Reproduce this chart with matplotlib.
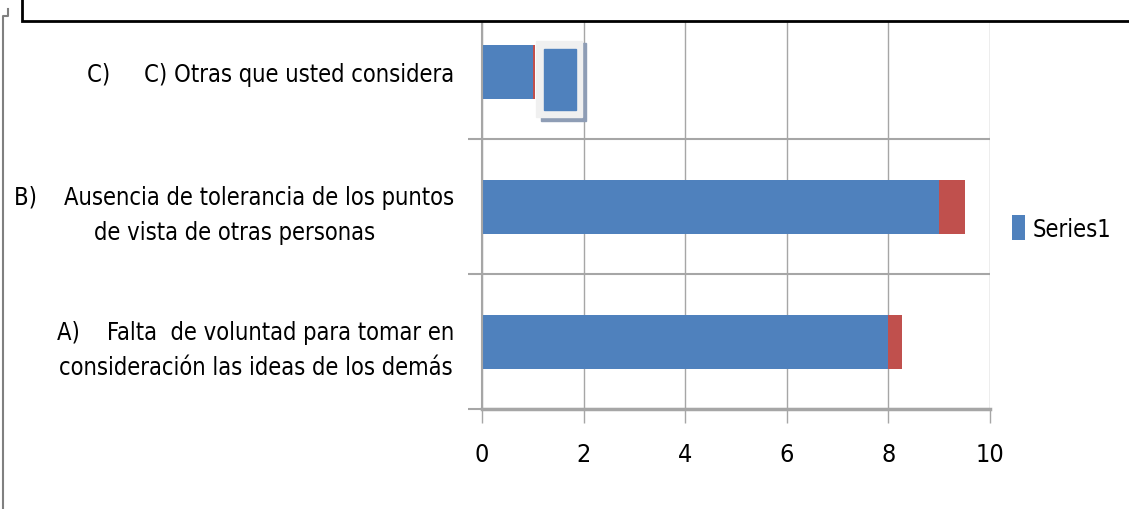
import matplotlib
matplotlib.use('Agg')
import matplotlib.pyplot as plt
from matplotlib.patches import Rectangle
from matplotlib.lines import Line2D

categories = ['A)    Falta  de voluntad para tomar en\nconsideración las ideas de los demás',
              'B)    Ausencia de tolerancia de los puntos\nde vista de otras personas',
              'C)     C) Otras que usted considera']
series1 = [8, 9, 1]
series2 = [0.27, 0.5, 0.05]
xticks = [0, 2, 4, 6, 8, 10]

blue = '#4f81bd'
red = '#c0504d'
grid = '#a6a6a6'

plt.rcParams['font.family'] = ['DejaVu Sans']
plt.rcParams['font.stretch'] = 'condensed'

fig = plt.figure(figsize=(11.29, 5.1), dpi=100)
ax = fig.add_axes([482 / 1129, 1 - 410 / 510, 508 / 1129, 405 / 510])

y = range(len(categories))
ax.barh(y, series1, height=0.4, color=blue, label='Series1')
ax.barh(y, series2, left=series1, height=0.4, color=red)

ax.set_xlim(0, 10)
ax.set_ylim(-0.5, 2.5)
ax.set_xticks(xticks)
ax.set_xticklabels([str(v) for v in xticks], fontsize=18)
ax.set_yticks([-0.5, 0.5, 1.5])
ax.set_yticklabels([])
ax.set_yticks(list(y), minor=True)
ax.set_yticklabels(categories, minor=True, fontsize=17, multialignment='center',
                   linespacing=1.6)
ax.tick_params(axis='y', which='minor', length=0, pad=20)
ax.tick_params(axis='y', which='major', length=10, color=grid, width=1.5)
ax.tick_params(axis='x', length=10, color=grid, width=1, pad=14)
ax.grid(axis='x', color=grid, lw=1)
ax.grid(axis='y', color=grid, lw=1.5)
ax.set_axisbelow(True)
for s in ['top', 'right']:
    ax.spines[s].set_visible(False)
ax.spines['left'].set_color(grid)
ax.spines['left'].set_linewidth(1.5)
ax.spines['bottom'].set_color(grid)
ax.spines['bottom'].set_linewidth(2.5)

ax.legend(loc='center left', bbox_to_anchor=(991 / 1129, 1 - 229 / 510),
          bbox_transform=fig.transFigure, frameon=False, fontsize=17,
          handlelength=0.55, handleheight=1.2, handletextpad=0.3)

# stray selected legend key on top of bar C
fig.patches.append(Rectangle((541 / 1129, 1 - 122 / 510), 45 / 1129, 78 / 510,
                             transform=fig.transFigure, color='#8e9db5', zorder=5))
fig.patches.append(Rectangle((536 / 1129, 1 - 118 / 510), 46 / 1129, 76 / 510,
                             transform=fig.transFigure, color='#f0f0f0', zorder=6))
fig.patches.append(Rectangle((544 / 1129, 1 - 111 / 510), 32 / 1129, 61 / 510,
                             transform=fig.transFigure, color=blue, zorder=7))

# frame pieces from the surrounding document
fig.add_artist(Rectangle((22 / 1129, 1 - 22 / 510), 1.1, 0.2, transform=fig.transFigure,
                         facecolor='white', edgecolor='black', lw=2, zorder=4))
fig.add_artist(Line2D([3 / 1129, 3 / 1129, 8 / 1129, 8 / 1129],
                      [0, 1 - 17 / 510, 1 - 17 / 510, 1 - 10 / 510],
                      transform=fig.transFigure, color='#808080', lw=1.5))

fig.savefig('out.png', dpi=100)
